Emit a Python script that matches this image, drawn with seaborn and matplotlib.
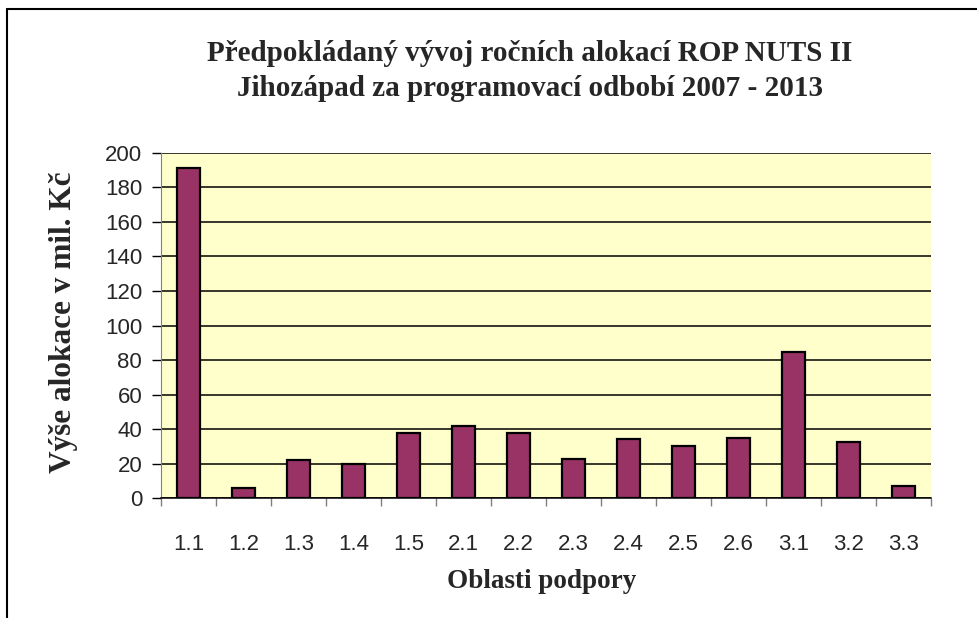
import matplotlib
matplotlib.use("Agg")
import matplotlib.pyplot as plt
import seaborn as sns
import pandas as pd
import numpy as np
from matplotlib.lines import Line2D

# Data
oblasti = ["1.1", "1.2", "1.3", "1.4", "1.5", "2.1", "2.2",
           "2.3", "2.4", "2.5", "2.6", "3.1", "3.2", "3.3"]
alokace = [191, 6, 22, 20, 38, 42, 38, 23, 34.5, 30, 34.7, 84.5, 32.4, 7]

df = pd.DataFrame({"oblast": oblasti, "alokace": alokace})

sns.set_style("white")
plt.rcParams["font.family"] = ["Liberation Sans", "DejaVu Sans"]

fig = plt.figure(figsize=(9.78, 6.18), dpi=100)
W, H = 978, 618
ax = fig.add_axes([161 / W, 1 - 498.3 / H, 770 / W, 345.6 / H])

sns.barplot(data=df, x="oblast", y="alokace", ax=ax, color="#993366",
            saturation=1, width=0.41, edgecolor="black", linewidth=1.6, zorder=3)

ax.set_facecolor("#FFFFCC")
ax.set_ylim(0, 200)
ax.set_xlim(-0.5, len(oblasti) - 0.5)
ax.set_yticks(np.arange(0, 201, 20))
ax.yaxis.grid(True, color="black", linewidth=1.1, zorder=1)
ax.set_axisbelow(True)

for s in ["top", "right"]:
    ax.spines[s].set_visible(False)
ax.spines["left"].set_color("#808080")
ax.spines["bottom"].set_color("black")
ax.spines["bottom"].set_linewidth(1.1)

ax.tick_params(axis="y", direction="out", length=6.5, width=1, color="black",
               labelsize=16, pad=7, left=True)
ax.tick_params(axis="x", which="major", length=0, labelsize=16, pad=26)
ax.set_xticks(np.arange(-0.5, len(oblasti), 1), minor=True)
ax.tick_params(axis="x", which="minor", direction="out", length=5.5, width=1,
               color="#808080", bottom=True)

ax.set_xlabel("")
ax.set_ylabel("")
fig.text(542 / W, 1 - 582 / H, "Oblasti podpory", ha="center", va="center",
         family="Liberation Serif", fontweight="bold", fontsize=19.5)
fig.text(64 / W, 1 - 322 / H, "Výše alokace v mil. Kč", ha="center", va="center",
         rotation=90, family="Liberation Serif", fontweight="bold", fontsize=22.5)

fig.text(530 / W, 1 - 71 / H,
         "Předpokládaný vývoj ročních alokací ROP NUTS II\n"
         "Jihozápad za programovací odbobí 2007 - 2013",
         ha="center", va="center", family="Liberation Serif",
         fontweight="bold", fontsize=21, linespacing=1.42)

# outer chart border (top and left edges visible in the crop)
fig.add_artist(Line2D([7 / W, 1], [1 - 8.5 / H, 1 - 8.5 / H],
                      transform=fig.transFigure, color="black", linewidth=1.5))
fig.add_artist(Line2D([7 / W, 7 / W], [0, 1 - 8.5 / H],
                      transform=fig.transFigure, color="black", linewidth=1.5))

fig.savefig("out.png", dpi=100)
